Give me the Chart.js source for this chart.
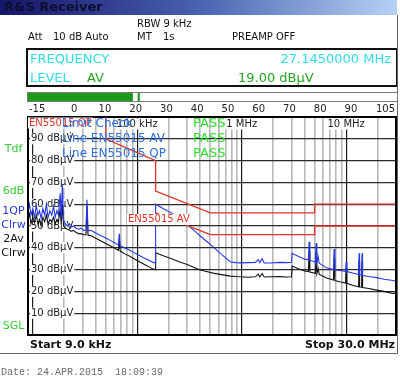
<!DOCTYPE html>
<html>
<head>
<meta charset="utf-8">
<script src="https://cdn.jsdelivr.net/npm/chart.js@4.4.1/dist/chart.umd.min.js"></script>
<style>
  html, body { margin: 0; padding: 0; background: #fff; }
  #wrap { position: relative; width: 400px; height: 380px; }
  #wrap canvas { position: absolute; left: 0; }
  #scan { top: 0; }
  #meter { top: 86px; }
</style>
</head>
<body>
<div id="wrap">
  <canvas id="scan" width="400" height="380"></canvas>
  <canvas id="meter" width="400" height="30"></canvas>
</div>
<script>
// scan traces, frequency in kHz, level in dBµV
const scanFreqs = [
  9.0, 9.3, 9.6, 10.0, 10.4, 10.8, 11.2, 11.6, 12.0, 12.5,
  13.0, 13.5, 14.0, 14.6, 15.2, 15.8, 16.4, 17.0, 17.6, 18.3,
  18.7, 19.2, 19.7, 20.5, 21.5, 22.5, 23.5, 24.5, 26, 27.5,
  29, 30.5, 32.3, 33, 33.8, 36, 40, 44, 50, 55,
  61, 66, 67.3, 68.6, 77, 85, 92, 100, 107, 115,
  125, 135, 142, 149, 150, 180, 216, 255, 301, 350,
  401, 460, 533, 640, 776, 880, 970, 1150, 1350, 1440,
  1490, 1570, 1640, 1900, 2300, 2700, 3000, 3040, 3500, 4000,
  4350, 4420, 4490, 5080, 5160, 5240, 5400, 5520, 6500, 7550,
  7670, 7790, 8700, 9850, 10000, 10150, 11500, 13150, 13300, 13450,
  14050, 14200, 14350, 16500, 19600, 23000, 27100, 30000
];
const qpLevels = [
  57, 60, 55, 58, 54, 59.5, 55, 57, 53.5, 58,
  55, 60, 54, 57, 55, 59, 54, 57, 55, 65,
  54, 69, 53, 51, 50, 51, 49.5, 50, 49, 48.5,
  49, 48, 48.2, 62, 47.8, 48, 46.8, 45.8, 44.5, 43.4,
  42.2, 41.3, 46.5, 41, 39.8, 38.9, 37.9, 37, 36.2, 35.4,
  34.6, 33.8, 33.3, 33.1, 60, 57.8, 55.8, 53.2, 50.5, 48,
  45.4, 43, 40.4, 37, 33.6, 33.2, 33.1, 33.2, 33.3, 34.6,
  33.2, 35, 33.1, 33, 33.3, 33.2, 33.4, 37.5, 36, 34.8,
  34.5, 42.8, 34.3, 33.4, 42.2, 33.2, 35.8, 32.9, 30.8, 30,
  39.4, 29.9, 29.6, 29.2, 33.6, 29.1, 28.4, 27.7, 37.5, 27.6,
  27.4, 37.5, 27.3, 26.8, 26.3, 25.6, 25.1, 24.8
];
const avLevels = [
  53, 55.5, 51, 54, 51.5, 55, 51, 53, 50, 54,
  52, 55, 51, 53, 52, 54, 51, 53, 52, 58,
  51, 60, 50, 49, 48.5, 48, 47.5, 48, 47, 46.5,
  46.5, 46, 46, 59, 45.8, 45.6, 44.4, 43.4, 42, 40.9,
  39.8, 38.8, 44, 38.5, 37.1, 36.1, 35.1, 34.2, 33.4, 32.6,
  31.7, 30.8, 30.2, 30, 37.7, 36.2, 34.9, 33.5, 32.3, 31,
  29.8, 29.1, 28.4, 27.7, 27, 26.8, 26.7, 26.5, 26.7, 27.9,
  26.6, 28.2, 26.6, 26.7, 26.8, 26.6, 26.7, 31.6, 30.4, 29.4,
  29.1, 38.5, 28.9, 28.3, 38, 28.1, 30.5, 27.8, 26.1, 25.2,
  35, 25, 24.4, 23.8, 30.7, 23.7, 22.8, 22.1, 34, 22,
  21.9, 34, 21.8, 21.3, 20.6, 20, 19.2, 19.1
];

// EN55015 limit lines
const qpLimitFreqs = [50, 50, 150, 150, 500, 5000, 5000, 30000];
const qpLimitLevels = [110, 90, 80, 66, 56, 56, 60, 60];
const avLimitFreqs = [150, 500, 5000, 5000, 30000];
const avLimitLevels = [56, 46, 46, 50, 50];

const levelTicks = [10, 20, 30, 40, 50, 60, 70, 80, 90];
const freqLabelValues = [100, 1000, 10000];
const freqLabelTexts = ['100 kHz', '1 MHz', '10 MHz'];

// level meter
const meterTicks = [-15, 0, 10, 20, 30, 40, 50, 60, 70, 80, 90, 105];
const meterLevel = 19.0;
const meterPeak = 21;

const FONT = '"DejaVu Sans", Verdana, sans-serif';
const CYAN = '#2fdcea';
const GREEN = '#22a822';
const BRIGHT_GREEN = '#2ee02e';
const BLUE = '#2438e0';
const RED = '#e03228';

function label(ctx, s, x, y, font, color, align) {
  ctx.font = font + ' ' + FONT;
  ctx.fillStyle = color;
  ctx.textAlign = align || 'left';
  ctx.textBaseline = 'middle';
  ctx.fillText(s, x, y);
}

function boxedLabel(ctx, s, x, y, font, color, align) {
  ctx.font = font + ' ' + FONT;
  const w = ctx.measureText(s).width;
  let left = x;
  if (align === 'center') left = x - w / 2;
  if (align === 'right') left = x - w;
  ctx.fillStyle = '#fff';
  ctx.fillRect(left - 1, y - 5.5, w + 2, 11);
  label(ctx, s, x, y, font, color, align);
}

const isDecade = v => Math.abs(Math.log10(v) - Math.round(Math.log10(v))) < 1e-6;

const scanChrome = {
  id: 'scanChrome',
  beforeDraw(chart) {
    const ctx = chart.ctx;
    ctx.save();
    ctx.fillStyle = '#fff';
    ctx.fillRect(0, 0, chart.width, chart.height);

    // title bar
    const g = ctx.createLinearGradient(0, 0, 397, 0);
    g.addColorStop(0, '#15156a');
    g.addColorStop(0.5, '#4a62b0');
    g.addColorStop(1, '#b6d2f4');
    ctx.fillStyle = g;
    ctx.fillRect(0, 0, 397, 15);
    label(ctx, 'R&S Receiver', 4, 8, 'bold 13px', '#0e0e2e');

    // settings
    label(ctx, 'RBW 9 kHz', 137, 24, '10px', '#111');
    label(ctx, 'Att', 28, 37, '10px', '#111');
    label(ctx, '10 dB Auto', 53, 37, '10px', '#111');
    label(ctx, 'MT', 137, 37, '10px', '#111');
    label(ctx, '1s', 163, 37, '10px', '#111');
    label(ctx, 'PREAMP OFF', 232, 37, '10px', '#111');

    // readout box
    ctx.strokeStyle = '#111';
    ctx.lineWidth = 2;
    ctx.strokeRect(27, 49, 370, 37);
    label(ctx, 'FREQUENCY', 30, 60, '13px', CYAN);
    label(ctx, '27.1450000 MHz', 391, 60, '13px', CYAN, 'right');
    label(ctx, 'LEVEL', 30, 78.5, '13px', CYAN);
    label(ctx, 'AV', 87, 78.5, '13px', GREEN);
    label(ctx, meterLevel.toFixed(2) + ' dBµV', 238, 78.5, '13px', GREEN);

    // side annotations
    label(ctx, 'Tdf', 13.5, 149, '11px', '#33cc33', 'center');
    label(ctx, '6dB', 13.5, 191, '11px', '#33cc33', 'center');
    label(ctx, '1QP', 13.5, 211, '11px', BLUE, 'center');
    label(ctx, 'Clrw', 13.5, 225, '11px', BLUE, 'center');
    label(ctx, '2Av', 13.5, 239, '11px', '#111', 'center');
    label(ctx, 'Clrw', 13.5, 253, '11px', '#111', 'center');
    label(ctx, 'SGL', 13.5, 326, '11px', '#33cc33', 'center');

    label(ctx, 'Start 9.0 kHz', 30, 345, 'bold 11px', '#111');
    label(ctx, 'Stop 30.0 MHz', 395, 345, 'bold 11px', '#111', 'right');

    // window frame
    ctx.strokeStyle = '#666';
    ctx.lineWidth = 1;
    ctx.beginPath();
    ctx.moveTo(397.5, 15); ctx.lineTo(397.5, 353.5);
    ctx.moveTo(0, 353.5); ctx.lineTo(398, 353.5);
    ctx.stroke();

    ctx.font = '10px "Liberation Mono", monospace';
    ctx.fillStyle = '#6a6a6a';
    ctx.textAlign = 'left';
    ctx.textBaseline = 'middle';
    ctx.fillText('Date: 24.APR.2015  18:09:39', 1, 372);
    ctx.restore();
  },
  beforeDatasetsDraw(chart) {
    const ctx = chart.ctx;
    const y = chart.scales.y;
    ctx.save();
    levelTicks.forEach(v => {
      boxedLabel(ctx, v + ' dBµV', 31, y.getPixelForValue(v), '10px', '#222');
    });
    ctx.restore();
  },
  afterDatasetsDraw(chart) {
    const ctx = chart.ctx;
    const a = chart.chartArea;
    const x = chart.scales.x;
    const y = chart.scales.y;
    ctx.save();
    ctx.strokeStyle = '#000';
    ctx.lineWidth = 2;
    ctx.strokeRect(a.left, a.top, a.right - a.left, a.bottom - a.top);

    freqLabelValues.forEach((f, i) => {
      boxedLabel(ctx, freqLabelTexts[i], x.getPixelForValue(f), 124, '10px', '#222', 'center');
    });
    boxedLabel(ctx, 'EN55015 QP', a.left + 1, 123, '10px', RED);
    boxedLabel(ctx, 'EN55015 AV', 128, y.getPixelForValue(53), '10px', RED);

    label(ctx, 'Limit Check', 62, 124, '12px', '#2f6fe0');
    label(ctx, 'Line EN55015 AV', 62, 139, '12px', '#2f6fe0');
    label(ctx, 'Line EN55015 QP', 62, 154, '12px', '#2f6fe0');
    label(ctx, 'PASS', 193, 124, '13px', BRIGHT_GREEN);
    label(ctx, 'PASS', 193, 139, '13px', BRIGHT_GREEN);
    label(ctx, 'PASS', 193, 154, '13px', BRIGHT_GREEN);
    ctx.restore();
  }
};

const toPoints = (fs, ls) => fs.map((f, i) => ({ x: f, y: ls[i] }));

new Chart(document.getElementById('scan'), {
  type: 'line',
  data: {
    datasets: [
      { label: 'EN55015 QP', data: toPoints(qpLimitFreqs, qpLimitLevels), borderColor: RED, borderWidth: 1.3, clip: 0 },
      { label: 'EN55015 AV', data: toPoints(avLimitFreqs, avLimitLevels), borderColor: RED, borderWidth: 1.3, clip: 0 },
      { label: '1QP Clrw', data: toPoints(scanFreqs, qpLevels), borderColor: BLUE, borderWidth: 1.1, clip: 0 },
      { label: '2Av Clrw', data: toPoints(scanFreqs, avLevels), borderColor: '#111', borderWidth: 1.1, clip: 0 }
    ]
  },
  options: {
    responsive: false,
    animation: false,
    events: [],
    layout: { padding: { left: 28, right: 4, top: 117, bottom: 45 } },
    elements: { point: { radius: 0 }, line: { tension: 0 } },
    plugins: { legend: { display: false }, tooltip: { enabled: false } },
    scales: {
      x: {
        type: 'logarithmic',
        min: 9,
        max: 30000,
        afterBuildTicks: axis => {
          const t = [];
          for (let dec = 1; dec <= 10000; dec *= 10) {
            for (let m = 1; m <= 9; m++) {
              const v = m * dec;
              if (v >= 9 && v <= 30000) t.push({ value: v });
            }
          }
          axis.ticks = t;
        },
        afterFit: s => { s.height = 0; },
        ticks: { display: false },
        grid: {
          drawTicks: false,
          color: c => isDecade(c.tick.value) ? '#1e1e1e' : '#b8b8b8',
          lineWidth: c => isDecade(c.tick.value) ? 1.2 : 1.6
        },
        border: { display: false }
      },
      y: {
        type: 'linear',
        min: 0,
        max: 100,
        afterFit: s => { s.width = 0; },
        ticks: { display: false, stepSize: 10 },
        grid: { drawTicks: false, color: '#2a2a2a', lineWidth: 1.2 },
        border: { display: false }
      }
    }
  },
  plugins: [scanChrome]
});

const meterChrome = {
  id: 'meterChrome',
  afterDatasetsDraw(chart) {
    const ctx = chart.ctx;
    const a = chart.chartArea;
    const x = chart.scales.x;
    ctx.save();
    ctx.strokeStyle = '#7a7a7a';
    ctx.lineWidth = 1;
    ctx.strokeRect(a.left - 0.5, a.top - 0.5, a.right - a.left + 1, a.bottom - a.top + 1);
    meterTicks.forEach((v, i) => {
      let align = 'center';
      let px = x.getPixelForValue(v);
      if (i === 0) { align = 'left'; px += 1; }
      if (i === meterTicks.length - 1) { align = 'right'; px -= 2; }
      label(ctx, String(v), px, 23.5, '10px', '#222', align);
    });
    ctx.restore();
  }
};

new Chart(document.getElementById('meter'), {
  type: 'bar',
  data: {
    labels: ['AV'],
    datasets: [
      { data: [[meterTicks[0], meterLevel]], backgroundColor: '#1c9a1c', barPercentage: 1, categoryPercentage: 1, grouped: false },
      { data: [[meterPeak - 0.25, meterPeak + 0.25]], backgroundColor: '#1c9a1c', barPercentage: 1, categoryPercentage: 1, grouped: false }
    ]
  },
  options: {
    indexAxis: 'y',
    responsive: false,
    animation: false,
    events: [],
    layout: { padding: { left: 28, right: 3, top: 7, bottom: 15 } },
    plugins: { legend: { display: false }, tooltip: { enabled: false } },
    scales: {
      x: { type: 'linear', min: meterTicks[0], max: meterTicks[meterTicks.length - 1], display: false },
      y: { display: false }
    }
  },
  plugins: [meterChrome]
});
</script>
</body>
</html>
